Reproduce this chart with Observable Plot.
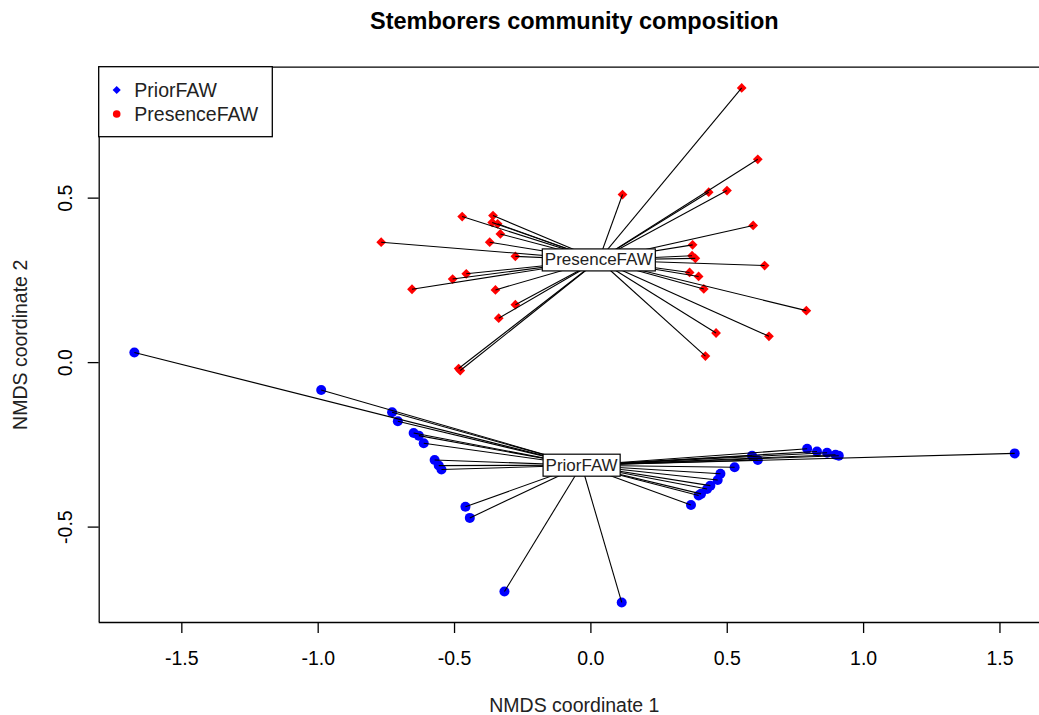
<!DOCTYPE html>
<html><head><meta charset="utf-8">
<script src="https://cdn.jsdelivr.net/npm/d3@7"></script>
<script src="https://cdn.jsdelivr.net/npm/@observablehq/plot@0.6"></script>
<style>body{margin:0;background:#fff;} svg{display:block}</style>
</head><body><div id="chart"></div>
<script>
// ---- data ----
const presenceX = [0.553, 0.612, 0.116, 0.432, 0.499, 0.595, -0.472, -0.359, -0.362, -0.342, -0.332, -0.769, -0.371, -0.277, 0.373, 0.371, 0.383, 0.637, 0.362, 0.395, 0.414, -0.457, -0.507, -0.656, -0.350, -0.277, -0.338, 0.790, 0.459, 0.653, 0.420, -0.479, -0.485];
const presenceY = [0.835, 0.618, 0.511, 0.518, 0.523, 0.417, 0.444, 0.447, 0.426, 0.422, 0.391, 0.366, 0.366, 0.323, 0.358, 0.325, 0.317, 0.295, 0.274, 0.262, 0.224, 0.270, 0.254, 0.223, 0.221, 0.176, 0.135, 0.158, 0.090, 0.080, 0.020, -0.024, -0.018];
const priorX = [-1.674, -0.989, -0.729, -0.708, -0.650, -0.631, -0.613, -0.573, -0.558, -0.548, -0.460, -0.444, -0.317, 0.113, 0.367, 0.395, 0.404, 0.426, 0.438, 0.465, 0.475, 0.527, 0.591, 0.612, 0.793, 0.829, 0.866, 0.897, 0.909, 1.554];
const priorY = [0.031, -0.083, -0.151, -0.178, -0.214, -0.222, -0.245, -0.296, -0.313, -0.325, -0.438, -0.472, -0.696, -0.729, -0.433, -0.404, -0.399, -0.384, -0.374, -0.357, -0.338, -0.318, -0.283, -0.296, -0.262, -0.270, -0.274, -0.280, -0.283, -0.276];
const groupNames = ["PriorFAW", "PresenceFAW"];
const groupColors = ["#0000FF", "#FF0000"];
const centroidX = [-0.034, 0.029];
const centroidY = [-0.312, 0.312];
const xTicks = [-1.5, -1.0, -0.5, 0.0, 0.5, 1.0, 1.5];
const yTicks = [-0.5, 0.0, 0.5];
const titleText = "Stemborers community composition";
const xLabel = "NMDS coordinate 1";
const yLabel = "NMDS coordinate 2";

// ---- tables ----
const priorSites = priorX.map((x, i) => ({group: groupNames[0], x, y: priorY[i]}));
const presenceSites = presenceX.map((x, i) => ({group: groupNames[1], x, y: presenceY[i]}));
const centroids = groupNames.map((g, i) => ({group: g, x: centroidX[i], y: centroidY[i]}));
const cBy = new Map(centroids.map(c => [c.group, c]));
const spokes = [...priorSites, ...presenceSites].map(s => ({...s, cx: cBy.get(s.group).x, cy: cBy.get(s.group).y}));

const X_DOMAIN = [-1.803, 1.645];
const Y_DOMAIN = [-0.790, 0.898];
const FONT = "'Liberation Sans', Arial, sans-serif";
const fmt = d => d.toFixed(1);

const plot = Plot.plot({
  width: 1039, height: 715,
  marginLeft: 98.7, marginRight: 0, marginTop: 66.7, marginBottom: 93,
  style: {fontFamily: FONT, fontSize: "19.5px", background: "#fff", color: "#000"},
  x: {domain: X_DOMAIN},
  y: {domain: Y_DOMAIN},
  marks: [
    Plot.axisX({ticks: xTicks, tickSize: 11, tickPadding: 18, tickFormat: fmt, fontSize: 19.5, strokeWidth: 1.3, label: null}),
    Plot.axisY({ticks: yTicks, tickSize: 11, tickFormat: () => "", strokeWidth: 1.3, label: null}),
    Plot.axisY({ticks: yTicks, tickSize: 0, tickPadding: 33.4, tickFormat: fmt, rotate: -90, textAnchor: "middle", lineAnchor: "middle", fontSize: 19.5, label: null}),
    Plot.ruleY([Y_DOMAIN[0], Y_DOMAIN[1]], {stroke: "#000", strokeWidth: 1.3}),
    Plot.ruleX([X_DOMAIN[0]], {stroke: "#000", strokeWidth: 1.3}),
    Plot.dot(priorSites, {x: "x", y: "y", r: 5, fill: groupColors[0], stroke: "none"}),
    Plot.dot(presenceSites, {x: "x", y: "y", r: 4.4, symbol: "diamond2", fill: groupColors[1], stroke: "none"}),
    Plot.link(spokes, {x1: "cx", y1: "cy", x2: "x", y2: "y", stroke: "#000", strokeWidth: 1.1}),
    Plot.text(centroids, {x: "x", y: "y", text: "group", fontSize: 17, fill: "#222"}),
    Plot.text([titleText], {text: d => d, frameAnchor: "top", lineAnchor: "middle", dy: -46, dx: 5, fontSize: 23.5, fontWeight: "bold", fill: "#000"}),
    Plot.text([xLabel], {text: d => d, frameAnchor: "bottom", lineAnchor: "middle", dy: 83, dx: 5, fontSize: 19.5, fill: "#222"}),
    Plot.text([yLabel], {text: d => d, frameAnchor: "left", textAnchor: "middle", lineAnchor: "middle", dx: -78.7, rotate: -90, fontSize: 19.5, fill: "#222"})
  ]
});
document.getElementById("chart").appendChild(plot);

// boxes behind centroid labels (like vegan::ordilabel)
const svg = d3.select(plot);
svg.selectAll("text").filter(function() { return groupNames.includes(this.textContent); }).each(function() {
  const b = this.getBBox();
  const px = 2.5, py = 1.5;
  const r = d3.select(this.parentNode).insert("rect", () => this)
    .attr("x", b.x - px).attr("y", b.y - py)
    .attr("width", b.width + 2 * px).attr("height", b.height + 2 * py)
    .attr("fill", "#fff").attr("stroke", "#000").attr("stroke-width", 1.2);
  const t = this.getAttribute("transform");
  if (t) r.attr("transform", t);
});

// legend (top-left, inside plot box)
const lg = svg.append("g").attr("aria-label", "legend").attr("font-family", FONT).attr("font-size", 19.5).attr("text-anchor", "start");
lg.append("rect").attr("x", 98.7).attr("y", 66.7).attr("width", 173.6).attr("height", 70)
  .attr("fill", "#fff").attr("stroke", "#000").attr("stroke-width", 1.3);
const legendSymbols = [d3.symbolDiamond2, d3.symbolCircle];
const legendSizes = [42, 46];
const legendRowY = [90, 114];
groupNames.forEach((g, i) => {
  lg.append("path").attr("d", d3.symbol(legendSymbols[i], legendSizes[i])())
    .attr("transform", `translate(116.7,${legendRowY[i]})`).attr("fill", groupColors[i]);
  lg.append("text").attr("x", 134.3).attr("y", legendRowY[i]).attr("dy", "0.36em")
    .attr("text-anchor", "start").attr("fill", "#222").text(g);
});
</script></body></html>
